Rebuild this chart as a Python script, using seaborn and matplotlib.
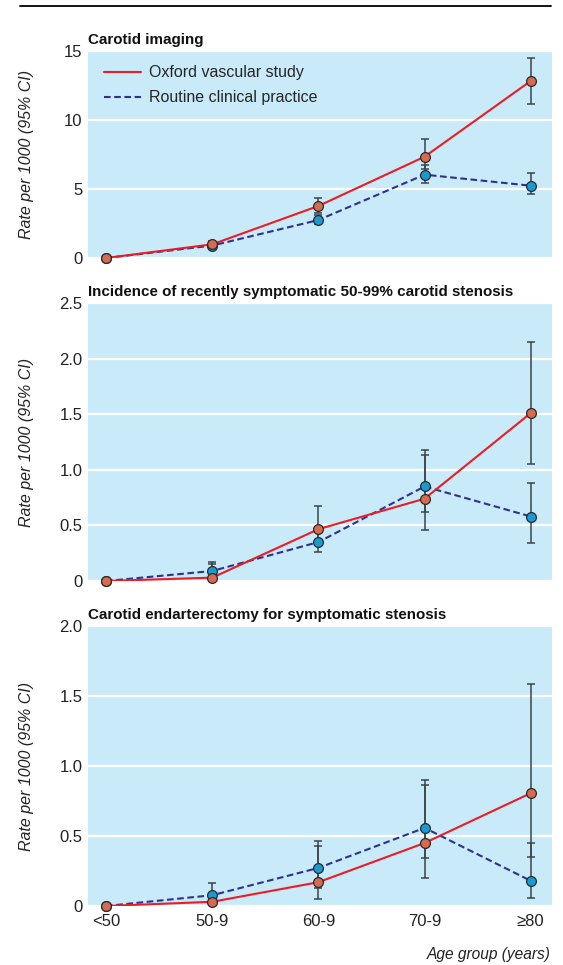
import numpy as np
import pandas as pd
import matplotlib
matplotlib.use("Agg")
import matplotlib.pyplot as plt
from matplotlib.lines import Line2D
import seaborn as sns

# ---------------- data ----------------
ages = ["<50", "50-9", "60-9", "70-9", "≥80"]
series_names = ["Oxford vascular study", "Routine clinical practice"]

titles = ["Carotid imaging",
          "Incidence of recently symptomatic 50-99% carotid stenosis",
          "Carotid endarterectomy for symptomatic stenosis"]

# panel 1: carotid imaging
img_oxford = [0.0, 0.99, 3.77, 7.34, 12.83]
img_oxford_lo = [0.0, 0.80, 3.28, 6.43, 11.18]
img_oxford_hi = [0.0, 1.20, 4.33, 8.60, 14.51]
img_routine = [0.0, 0.90, 2.75, 6.04, 5.24]
img_routine_lo = [0.0, 0.80, 2.46, 5.41, 4.64]
img_routine_hi = [0.0, 1.00, 3.14, 6.74, 6.14]

# panel 2: incidence of recently symptomatic stenosis
inc_oxford = [0.0, 0.03, 0.466, 0.74, 1.51]
inc_oxford_lo = [0.0, 0.0, 0.33, 0.46, 1.048]
inc_oxford_hi = [0.0, 0.153, 0.67, 1.135, 2.147]
inc_routine = [0.0, 0.09, 0.35, 0.85, 0.58]
inc_routine_lo = [0.0, 0.03, 0.264, 0.624, 0.345]
inc_routine_hi = [0.0, 0.17, 0.44, 1.18, 0.883]

# panel 3: endarterectomy
end_oxford = [0.0, 0.03, 0.17, 0.45, 0.806]
end_oxford_lo = [0.0, 0.005, 0.048, 0.20, 0.348]
end_oxford_hi = [0.0, 0.06, 0.43, 0.866, 1.588]
end_routine = [0.0, 0.077, 0.272, 0.558, 0.18]
end_routine_lo = [0.0, 0.02, 0.13, 0.343, 0.055]
end_routine_hi = [0.0, 0.167, 0.465, 0.90, 0.453]

y_limits = [15, 2.5, 2.0]
y_ticks = [[0, 5, 10, 15], [0, 0.5, 1.0, 1.5, 2.0, 2.5], [0, 0.5, 1.0, 1.5, 2.0]]
y_ticklabels = [["0", "5", "10", "15"],
                ["0", "0.5", "1.0", "1.5", "2.0", "2.5"],
                ["0", "0.5", "1.0", "1.5", "2.0"]]
y_label = "Rate per 1000 (95% CI)"
x_label = "Age group (years)"

panels = [
    (img_oxford, img_oxford_lo, img_oxford_hi, img_routine, img_routine_lo, img_routine_hi),
    (inc_oxford, inc_oxford_lo, inc_oxford_hi, inc_routine, inc_routine_lo, inc_routine_hi),
    (end_oxford, end_oxford_lo, end_oxford_hi, end_routine, end_routine_lo, end_routine_hi),
]

# ---------------- style ----------------
sns.set_style("white")
FAM = ["Liberation Sans Narrow", "Liberation Sans", "DejaVu Sans"]
plt.rcParams["font.family"] = FAM

BG = "#C9EAF9"
RED = "#EC1C24"
NAVY = "#2E3192"
OX_FILL = "#D86A50"
RT_FILL = "#1A9AD2"
EDGE = "#2a2a2a"
BAR = "#3d4448"
DASH = [3.2, 1.7]

W, H = 563, 965
fig = plt.figure(figsize=(W / 100, H / 100), dpi=100)

# axes rectangles in pixels: (top, bottom)
rects_px = [(51, 258), (303, 581), (626, 906)]
left_px, right_px = 88, 552

# top rule
fig.add_artist(Line2D([20 / W, 551 / W], [1 - 5.5 / H, 1 - 5.5 / H],
                      transform=fig.transFigure, color="black", lw=1.3))

for i, (top, bot) in enumerate(rects_px):
    ax = fig.add_axes([left_px / W, 1 - bot / H, (right_px - left_px) / W, (bot - top) / H])
    ax.set_facecolor(BG)
    ox, ox_lo, ox_hi, rt, rt_lo, rt_hi = panels[i]
    xpos = np.arange(len(ages))
    df = pd.DataFrame({
        "x": np.concatenate([xpos, xpos]),
        "rate": ox + rt,
        "source": [series_names[0]] * len(ages) + [series_names[1]] * len(ages),
    })
    df_ox = df[df["source"] == series_names[0]]
    df_rt = df[df["source"] == series_names[1]]

    # lines
    sns.lineplot(data=df_rt, x="x", y="rate", ax=ax, color=NAVY, lw=1.5,
                 label=series_names[1], zorder=3)
    ax.lines[-1].set_dashes(DASH)
    sns.lineplot(data=df_ox, x="x", y="rate", ax=ax, color=RED, lw=1.5,
                 label=series_names[0], zorder=4)

    # error bars
    ox_a = np.array(ox); rt_a = np.array(rt)
    ax.errorbar(xpos, rt_a, yerr=[rt_a - np.array(rt_lo), np.array(rt_hi) - rt_a],
                fmt="none", ecolor=BAR, elinewidth=1.1, capsize=3.2, capthick=1.1,
                zorder=5, clip_on=False)
    ax.errorbar(xpos, ox_a, yerr=[ox_a - np.array(ox_lo), np.array(ox_hi) - ox_a],
                fmt="none", ecolor=BAR, elinewidth=1.1, capsize=3.2, capthick=1.1,
                zorder=5, clip_on=False)

    # markers
    sns.scatterplot(data=df_rt, x="x", y="rate", ax=ax, color=RT_FILL, s=50,
                    edgecolor=EDGE, linewidth=0.9, zorder=6, legend=False, clip_on=False)
    sns.scatterplot(data=df_ox, x="x", y="rate", ax=ax, color=OX_FILL, s=50,
                    edgecolor=EDGE, linewidth=0.9, zorder=7, legend=False, clip_on=False)

    ax.set_xlim(-0.17, 4.2)
    ax.set_ylim(0, y_limits[i])
    ax.set_yticks(y_ticks[i])
    ax.set_yticklabels(y_ticklabels[i], fontsize=12, color="#222222")
    ax.set_xticks(xpos)
    if i == 2:
        ax.set_xticklabels(ages, fontsize=12, color="#222222")
    else:
        ax.set_xticklabels([])
    ax.tick_params(axis="y", length=0, pad=4)
    ax.tick_params(axis="x", direction="in", length=4, width=1.3, color="white", pad=6)
    for s in ax.spines.values():
        s.set_visible(False)
    ax.yaxis.grid(True, color="white", lw=1.6)
    ax.xaxis.grid(False)
    ax.set_axisbelow(True)
    ax.set_xlabel("")
    ax.set_ylabel(y_label, fontsize=11.5, style="italic", color="#222222")
    ax.yaxis.set_label_coords(-0.117, 0.5)
    ax.set_title(titles[i], loc="left", fontsize=10.9, fontweight="bold", pad=5, color="#111111")

    if i == 0:
        handles = [Line2D([], [], color=RED, lw=1.5),
                   Line2D([], [], color=NAVY, lw=1.5, dashes=DASH)]
        ax.legend(handles, series_names, loc="upper left", frameon=False,
                  bbox_to_anchor=(0.01, 0.985), fontsize=11.5, handlelength=2.3,
                  handletextpad=0.5, labelspacing=0.62, borderaxespad=0.3)
    else:
        leg = ax.get_legend()
        if leg is not None:
            leg.remove()

fig.text(551 / W, 1 - 955 / H, x_label, ha="right", va="center", fontsize=11.2,
         style="italic", color="#222222")

fig.savefig("out.png", dpi=100)
